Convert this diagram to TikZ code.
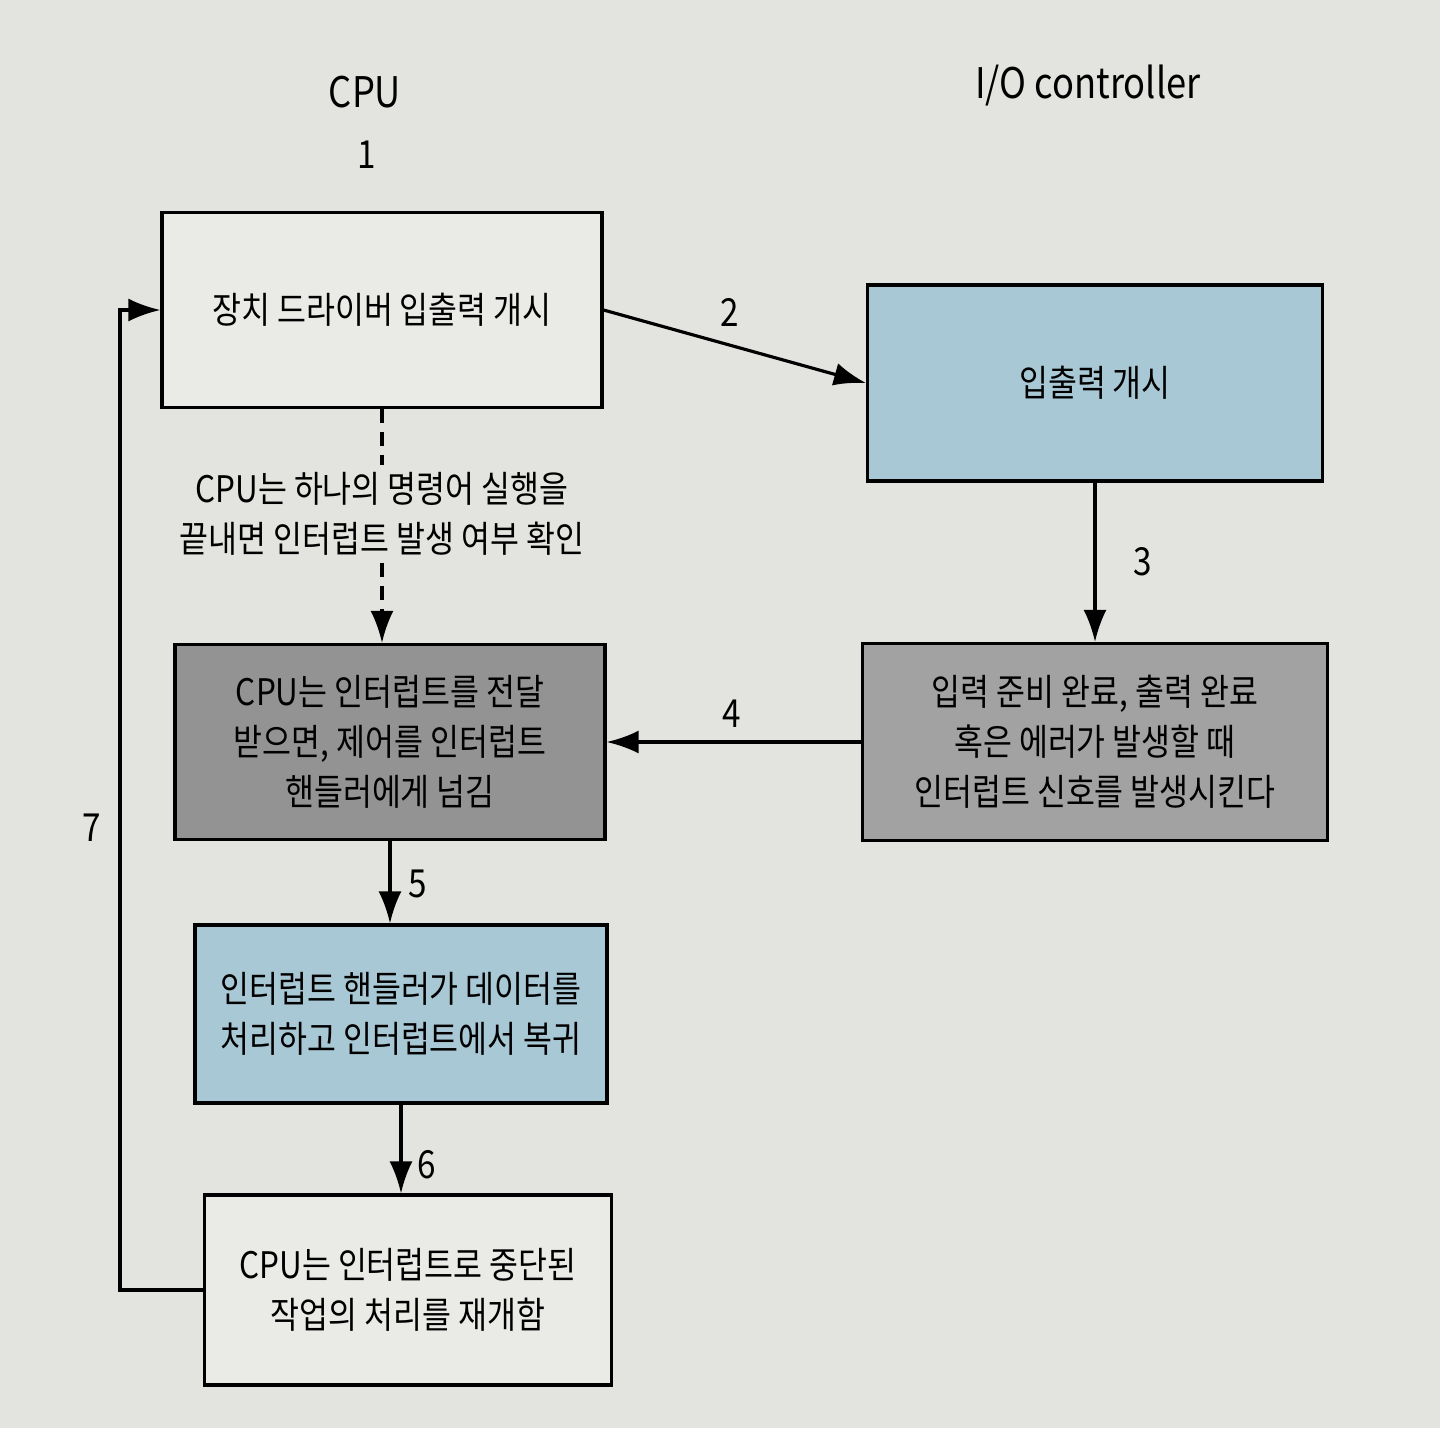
\documentclass[tikz,border=0pt]{standalone}
\usepackage{fontspec}
\setmainfont{Noto Sans CJK KR}[FakeStretch=0.86]
\usetikzlibrary{arrows.meta}
\definecolor{page}{HTML}{E3E3DF}
\definecolor{paper}{HTML}{EAEAE7}
\definecolor{ioblue}{HTML}{A9C8D5}
\definecolor{sigray}{HTML}{A2A2A2}
\definecolor{cpugray}{HTML}{939393}

\begin{document}
\begin{tikzpicture}[
    box/.style={draw, line width=0.9pt, align=center, inner sep=0pt, font=\fontsize{10.4}{14.2}\selectfont},
    num/.style={font=\fontsize{11}{13}\selectfont},
    head/.style={font=\fontsize{12}{14}\selectfont},
    flow/.style={line width=0.9pt, -{Latex[length=3.2mm,width=2.3mm]}},
    dots/.style={line width=0.9pt, dash pattern=on 4pt off 2.5pt}
]
    \fill[page] (0,0) rectangle (14.4,-14.28);
    \useasboundingbox (0,0) rectangle (14.4,-14.28);

    \node[head] (C) at (3.65,-0.92) {CPU};
    \node[head] (D) at (10.88,-0.85) {I/O controller};

    \node[box, fill=paper, minimum width=4.4cm, minimum height=1.95cm] (A) at (3.82,-3.1) {장치 드라이버 입출력 개시};
    \node[box, fill=ioblue, minimum width=4.55cm, minimum height=1.96cm] (B) at (10.95,-3.83) {입출력 개시};
    \node[box, fill=sigray, minimum width=4.65cm, minimum height=1.97cm] (E) at (10.95,-7.42) {입력 준비 완료, 출력 완료\\혹은 에러가 발생할 때\\인터럽트 신호를 발생시킨다};
    \node[box, fill=cpugray, minimum width=4.3cm, minimum height=1.95cm] (F) at (3.9,-7.42) {CPU는 인터럽트를 전달\\받으면, 제어를 인터럽트\\핸들러에게 넘김};
    \node[box, fill=ioblue, minimum width=4.12cm, minimum height=1.78cm] (G) at (4.01,-10.14) {인터럽트 핸들러가 데이터를\\처리하고 인터럽트에서 복귀};
    \node[box, fill=paper, minimum width=4.07cm, minimum height=1.9cm] (H) at (4.08,-12.9) {CPU는 인터럽트로 중단된\\작업의 처리를 재개함};

    \node[fill=page, align=center, inner sep=2pt, font=\fontsize{10.4}{14.2}\selectfont] (K) at (3.82,-5.14) {CPU는 하나의 명령어 실행을\\끝내면 인터럽트 발생 여부 확인};
    \coordinate (L) at (1.2,-3.1);

    \node[num] (N1) at (3.67,-1.55) {1};
    \node[num] (N2) at (7.3,-3.12) {2};
    \node[num] (N3) at (11.43,-5.62) {3};
    \node[num] (N4) at (7.32,-7.14) {4};
    \node[num] (N5) at (4.18,-8.84) {5};
    \node[num] (N6) at (4.27,-11.65) {6};
    \node[num] (N7) at (0.92,-8.28) {7};

    \draw[flow] (A.east) -- (B.west);
    \draw[flow] (B.south) -- (E.north);
    \draw[flow] (E.west) -- (F.east);
    \draw[dots] (A.south) -- (K.north);
    \draw[dots, flow] (K.south) -- (K.south |- F.north);
    \draw[flow] (F.south) -- (F.south |- G.north);
    \draw[flow] (G.south) -- (G.south |- H.north);
    \draw[flow] (H.west) -| (L) -- (A.west);

\end{tikzpicture}
\end{document}
